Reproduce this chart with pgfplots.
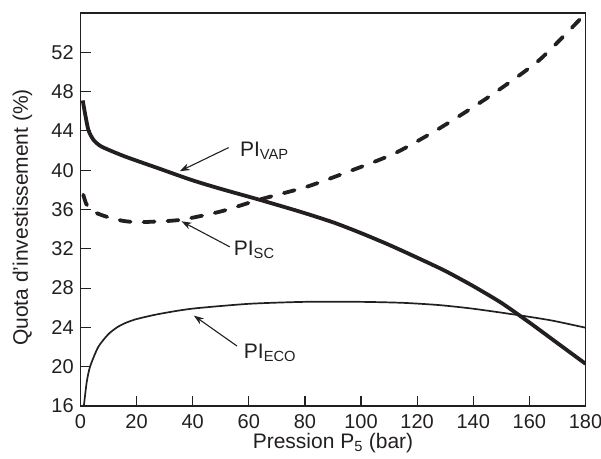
\documentclass[border=0pt]{standalone}
\usepackage{fontspec}
\setmainfont{Liberation Sans}
\usepackage{pgfplots}
\pgfplotsset{compat=1.18}
\usetikzlibrary{arrows.meta}
\definecolor{ink}{RGB}{35,31,32}
\begin{document}
\fontsize{20bp}{24bp}\selectfont
\begin{tikzpicture}
\begin{axis}[
  width=505bp, height=393bp, scale only axis,
  xmin=0, xmax=180, ymin=16, ymax=56,
  xtick={0,20,...,180}, ytick={16,20,...,52},
  tick pos=left, tick align=inside,
  major tick length=10bp,
  axis line style={ink, line width=1.6bp},
  tick style={ink, line width=1.2bp},
  /pgf/number format/assume math mode=true,
  ticklabel style={font=\fontsize{20bp}{24bp}\selectfont, text=ink},
  xticklabel style={yshift=-2bp},
  label style={font=\fontsize{21bp}{25bp}\selectfont, text=ink},
  xlabel={Pression P\textsubscript{5} (bar)},
  ylabel={Quota d'investissement (\%)},
  xlabel style={at={(axis description cs:0.5,0)}, anchor=center, yshift=-37bp},
  ylabel style={at={(axis description cs:0,0.48)}, anchor=center, yshift=58bp},
  clip=true,
]
% PI_VAP
\addplot[ink, line width=3.8bp, smooth, tension=0.4] coordinates {
(0.8,47.1) (1.6,45.8) (2.8,44.1) (4.6,43.1) (7.5,42.4) (15.8,41.4)
(27.7,40.2) (39.6,39.0) (50,38.1) (63.7,37.0) (78,35.8) (90,34.7)
(100,33.6) (110,32.4) (120,31.1) (130,29.75) (140,28.2) (150,26.5)
(160,24.5) (170,22.4) (180,20.3)
};
% PI_SC
\addplot[ink, line width=3.8bp, line cap=round, dash pattern=on 11bp off 13bp, smooth, tension=0.4] coordinates {
(1,37.5) (2,36.6) (3.5,36.0) (6,35.6) (10,35.2) (15,34.85) (20,34.7)
(25,34.75) (35.8,34.95) (50,35.8) (63.7,37.0) (80.5,38.3) (95,39.8)
(111.9,41.7) (127.9,44.25) (145.7,47.5) (163.5,51.2) (179.5,55.8)
};
% PI_ECO
\addplot[ink, line width=1.7bp, smooth, tension=0.4] coordinates {
(1.2,16) (2.2,18.4) (3.4,20) (6.3,22) (9.9,23.3) (13,24.0) (16,24.45)
(20,24.85) (27.7,25.35) (39.6,25.9) (60,26.4) (80,26.6) (100,26.6) (115,26.5)
(127.9,26.27) (140,25.9) (155.8,25.26) (168,24.7) (180,23.97)
};
% annotations
\draw[ink, line width=1.1bp, -{Stealth[length=10bp,width=7bp]}] (axis cs:52.8,42.3) -- (axis cs:35.4,39.9);
\node[anchor=west, text=ink, inner sep=0pt, font=\fontsize{21bp}{25bp}\selectfont] at (axis cs:56.8,42.0) {PI\textsubscript{VAP}};
\draw[ink, line width=1.1bp, -{Stealth[length=10bp,width=7bp]}] (axis cs:53.2,32.2) -- (axis cs:36,34.8);
\node[anchor=west, text=ink, inner sep=0pt, font=\fontsize{21bp}{25bp}\selectfont] at (axis cs:54.6,31.9) {PI\textsubscript{SC}};
\draw[ink, line width=1.1bp, -{Stealth[length=10bp,width=7bp]}] (axis cs:55.8,22.1) -- (axis cs:40.4,25.2);
\node[anchor=west, text=ink, inner sep=0pt, font=\fontsize{21bp}{25bp}\selectfont] at (axis cs:58.2,21.4) {PI\textsubscript{ECO}};
\coordinate (ll) at (rel axis cs:0,0);
\coordinate (ur) at (rel axis cs:1,1);
\end{axis}
\pgfresetboundingbox
\path[use as bounding box] ([shift={(-80.5bp,-53bp)}]ll) rectangle ([shift={(15.5bp,13bp)}]ur);
\end{tikzpicture}
\end{document}
